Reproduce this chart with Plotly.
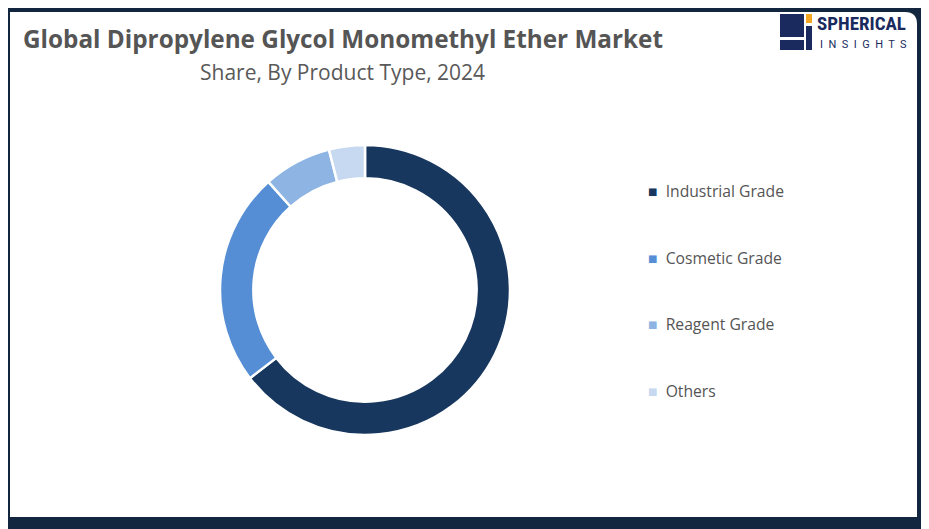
import plotly.graph_objects as go

categories = ["Industrial Grade", "Cosmetic Grade", "Reagent Grade", "Others"]
shares = [64.6, 23.8, 7.6, 4.0]
colors = ["#18375e", "#558ed5", "#8eb4e3", "#c6d9f1"]

OFF = 8
W, H = 929 - OFF, 529 - OFF
def px(x): return (x - OFF) / W
def py(y): return 1 - (y - OFF) / H

fig = go.Figure()
fig.add_trace(go.Pie(
    labels=categories, values=shares, hole=0.77, sort=False, direction="clockwise",
    rotation=0, marker=dict(colors=colors, line=dict(color="white", width=2.5)),
    textinfo="none", hoverinfo="label+percent", showlegend=False,
    domain=dict(x=[px(220), px(510)], y=[py(436), py(144)]),
))

shapes = [
    dict(type="rect", xref="paper", yref="paper", x0=0, x1=1, y0=0, y1=1,
         fillcolor="#12263f", line=dict(width=0), layer="below"),
    dict(type="path", xref="paper", yref="paper",
         path="M %f %f L %f %f Q %f %f %f %f L %f %f L %f %f Z" % (
             px(10), py(12), px(905), py(12), px(917), py(12), px(917), py(24),
             px(917), py(517), px(10), py(517)),
         fillcolor="white", line=dict(width=0), layer="below"),
    dict(type="rect", xref="paper", yref="paper", x0=px(780), x1=px(804), y0=py(37), y1=py(14),
         fillcolor="#1a2a5e", line=dict(width=0)),
    dict(type="rect", xref="paper", yref="paper", x0=px(806), x1=px(812), y0=py(23), y1=py(14),
         fillcolor="#f5a623", line=dict(width=0)),
    dict(type="rect", xref="paper", yref="paper", x0=px(806), x1=px(812), y0=py(50), y1=py(26),
         fillcolor="#1a2a5e", line=dict(width=0)),
    dict(type="rect", xref="paper", yref="paper", x0=px(780), x1=px(804), y0=py(50), y1=py(40),
         fillcolor="#1a2a5e", line=dict(width=0)),
]

annotations = [
    dict(text="<b>Global Dipropylene Glycol Monomethyl Ether Market</b>", x=px(21), y=py(38),
         xref="paper", yref="paper", xanchor="left", yanchor="middle", showarrow=False,
         font=dict(family="Open Sans", size=24.3, color="#555555")),
    dict(text="Share, By Product Type, 2024", x=px(342), y=py(72),
         xref="paper", yref="paper", xanchor="center", yanchor="middle", showarrow=False,
         font=dict(family="Open Sans", size=21, color="#595959")),
    dict(text="<b>SPHERICAL</b>", x=px(815), y=py(24), xref="paper", yref="paper",
         xanchor="left", yanchor="middle", showarrow=False,
         font=dict(family="Roboto Condensed, Roboto", size=19, color="#1a2a5e")),
    dict(text="I  N  S  I  G  H  T  S", x=px(818), y=py(45), xref="paper", yref="paper",
         xanchor="left", yanchor="middle", showarrow=False,
         font=dict(family="Roboto", size=11, color="#1a2a5e")),
]
for i, (c, col) in enumerate(zip(categories, colors)):
    annotations.append(dict(
        text='<span style="color:%s">■</span>  %s' % (col, c),
        x=px(646), y=py(191 + 66.7 * i), xref="paper", yref="paper",
        xanchor="left", yanchor="middle", showarrow=False,
        font=dict(family="Open Sans", size=15.7, color="#555555")))

fig.update_layout(width=W, height=H, margin=dict(l=0, r=0, t=0, b=0),
                  paper_bgcolor="white", plot_bgcolor="white",
                  shapes=shapes, annotations=annotations)
fig.write_html("out.html")
